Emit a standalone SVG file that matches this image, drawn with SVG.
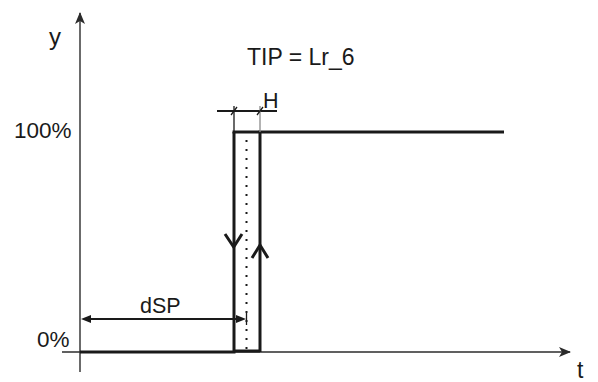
<svg xmlns="http://www.w3.org/2000/svg" width="598" height="382" viewBox="0 0 598 382">
<style>
.t{font-family:"Liberation Sans",Arial,sans-serif;fill:#1a1a1a}
.ax{stroke:#2b2b2b;stroke-width:1.4;fill:none}
.th{stroke:#1a1a1a;stroke-width:3;fill:none}
.dim{stroke:#1a1a1a;stroke-width:2;fill:none}
.thin{stroke:#1a1a1a;stroke-width:1.3;fill:none}
</style>
<defs>
<marker id="ah" viewBox="0 0 12 10" refX="11" refY="5" markerWidth="13" markerHeight="10" markerUnits="userSpaceOnUse" orient="auto">
<path d="M0,0 L12,5 L0,10 L3,5 Z" fill="#2b2b2b"/>
</marker>
</defs>
<g id="axes">
<line class="ax" x1="80" y1="372" x2="80" y2="13" marker-end="url(#ah)"/>
<line class="ax" x1="62" y1="352" x2="570" y2="352" marker-end="url(#ah)"/>
</g>
<g id="curve">
<polyline class="th" points="80,352 234,352 234,132"/>
<line class="th" x1="234" y1="351" x2="260" y2="351"/>
<polyline class="th" points="260,352 260,132 504,132"/>
<line class="th" x1="232.5" y1="132" x2="260" y2="132"/>
<line x1="246.5" y1="140" x2="246.5" y2="352" stroke="#1a1a1a" stroke-width="2" stroke-dasharray="2 7"/>
<polyline class="th" points="225,234 233.7,247 242,234"/>
<polyline class="th" points="252,258 260,245 268,258"/>
</g>
<g id="dimensions">
<line class="dim" x1="217" y1="111" x2="277" y2="111"/>
<line class="thin" x1="234" y1="106" x2="234" y2="132"/>
<line x1="260" y1="106" x2="260" y2="132" stroke="#8a8a8a" stroke-width="1.3"/>
<line class="thin" x1="231" y1="115" x2="237" y2="107"/>
<line class="thin" x1="257" y1="115" x2="263" y2="107"/>
<line class="dim" x1="90" y1="319" x2="238" y2="319"/>
<path d="M81,319 L91,315 L91,323 Z" fill="#1a1a1a"/>
<path d="M246,319 L236,315 L236,323 Z" fill="#1a1a1a"/>
<line class="thin" x1="246.5" y1="313" x2="246.5" y2="325"/>
</g>
<g id="labels">
<text class="t" x="49" y="45" font-size="24">y</text>
<text class="t" x="577" y="378" font-size="23">t</text>
<text class="t" x="14" y="138" font-size="22.5">100%</text>
<text class="t" x="37" y="347" font-size="22.5">0%</text>
<text class="t" x="140" y="313" font-size="21.5">dSP</text>
<text class="t" x="263" y="108" font-size="21.5">H</text>
<text class="t" x="247" y="65" font-size="23">TIP = Lr_6</text>
</g>
</svg>
